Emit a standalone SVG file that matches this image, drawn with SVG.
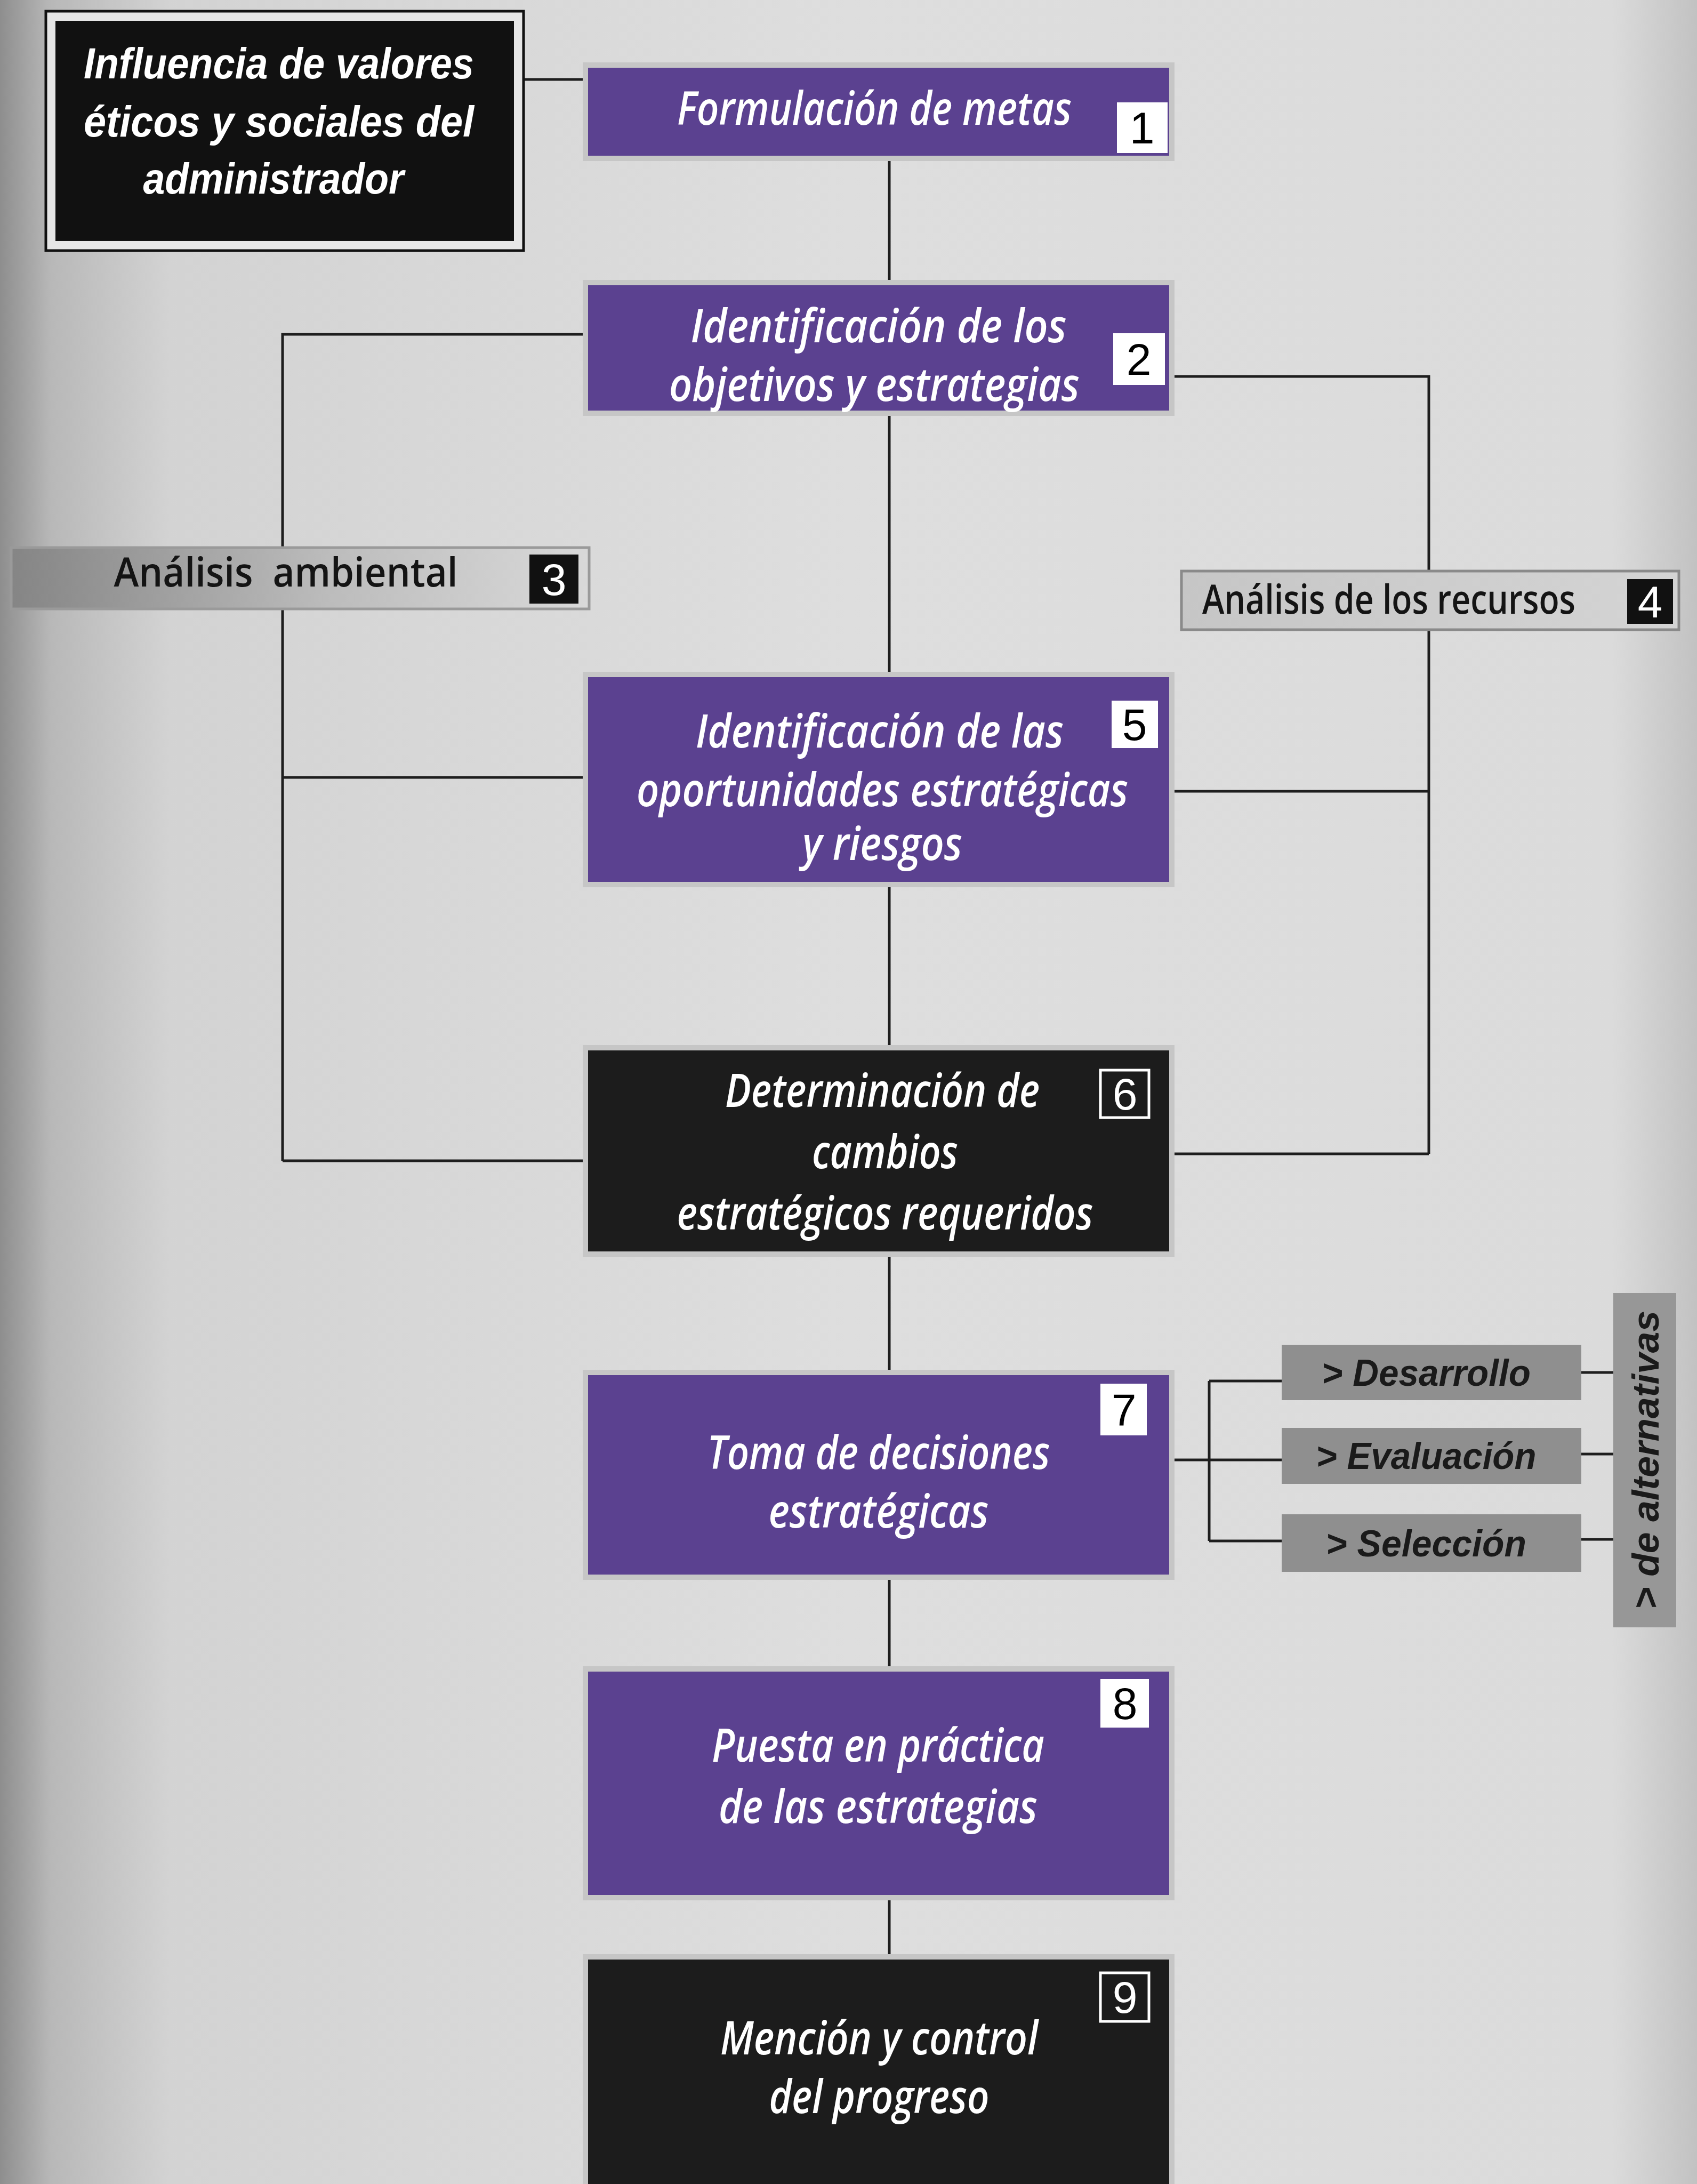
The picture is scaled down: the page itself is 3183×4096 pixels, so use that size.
<svg xmlns="http://www.w3.org/2000/svg" width="3183" height="4096" viewBox="0 0 3183 4096">
<defs>
<linearGradient id="page" x1="0" x2="1" y1="0" y2="0">
<stop offset="0" stop-color="#8e8e8e"/>
<stop offset="0.03" stop-color="#b8b8b8"/>
<stop offset="0.1" stop-color="#d3d3d3"/>
<stop offset="0.5" stop-color="#dedede"/>
<stop offset="0.95" stop-color="#dbdbdb"/>
<stop offset="1" stop-color="#c2c2c2"/>
</linearGradient>
<linearGradient id="g3" x1="0" x2="1" y1="0" y2="0">
<stop offset="0" stop-color="#858585"/>
<stop offset="0.55" stop-color="#bcbcbc"/>
<stop offset="1" stop-color="#d9d9d9"/>
</linearGradient>
<linearGradient id="g4" x1="0" x2="1" y1="0" y2="0">
<stop offset="0" stop-color="#c6c6c6"/>
<stop offset="1" stop-color="#d4d4d4"/>
</linearGradient>
</defs>
<style>
.conn line, .conn polyline {stroke:#1e1e1e; stroke-width:5; fill:none}
.purple {fill:#5b4190; stroke:#c6c6c6; stroke-width:10}
.dark {fill:#1c1c1c; stroke:#c6c6c6; stroke-width:10}
.nt {font-family:"Open Sans","Noto Sans",sans-serif; font-style:italic; font-weight:600; font-size:86px; fill:#ffffff; text-anchor:middle}
.num {font-family:"Liberation Sans",Arial,sans-serif; font-size:84px; text-anchor:middle}
.wbox {fill:#ffffff}
.bbox {fill:#111111}
.obox {fill:#1c1c1c; stroke:#ffffff; stroke-width:5}
.alt {fill:#8f8f8f}
.at {font-family:"Liberation Sans",Arial,sans-serif; font-weight:bold; font-style:italic; font-size:70px; fill:#1a1a1a; text-anchor:middle}
.gt {font-family:"Open Sans","Noto Sans",sans-serif; font-weight:600; font-size:76px; fill:#141414; text-anchor:middle; white-space:pre}
.it {font-family:"Liberation Sans",Arial,sans-serif; font-weight:bold; font-style:italic; font-size:82px; fill:#ffffff; text-anchor:middle}
</style>
<rect x="0" y="0" width="3183" height="4096" fill="url(#page)"/>

<g id="connectors" class="conn">
<line x1="982" y1="149" x2="1098" y2="149"/>
<line x1="1668" y1="297" x2="1668" y2="530"/>
<polyline points="1098,627 530,627 530,1027"/>
<polyline points="2198,706 2680,706 2680,1071"/>
<line x1="530" y1="1142" x2="530" y2="2177"/>
<line x1="530" y1="1458" x2="1098" y2="1458"/>
<line x1="530" y1="2177" x2="1098" y2="2177"/>
<line x1="2680" y1="1181" x2="2680" y2="2164"/>
<line x1="2198" y1="1484" x2="2680" y2="1484"/>
<line x1="2198" y1="2164" x2="2680" y2="2164"/>
<line x1="1668" y1="775" x2="1668" y2="1265"/>
<line x1="1668" y1="1659" x2="1668" y2="1965"/>
<line x1="1668" y1="2352" x2="1668" y2="2574"/>
<line x1="2198" y1="2738" x2="2268" y2="2738"/>
<line x1="2268" y1="2590" x2="2268" y2="2890"/>
<line x1="2268" y1="2590" x2="2404" y2="2590"/>
<line x1="2268" y1="2738" x2="2404" y2="2738"/>
<line x1="2268" y1="2890" x2="2404" y2="2890"/>
<line x1="2966" y1="2574" x2="3026" y2="2574"/>
<line x1="2966" y1="2727" x2="3026" y2="2727"/>
<line x1="2966" y1="2887" x2="3026" y2="2887"/>
<line x1="1668" y1="2958" x2="1668" y2="3130"/>
<line x1="1668" y1="3559" x2="1668" y2="3670"/>
</g>

<g id="node-influencia">
<rect x="86" y="21" width="896" height="449" fill="#e6e6e6" stroke="#111" stroke-width="5"/>
<rect x="104" y="39" width="860" height="413" fill="#111111"/>
<text class="it" x="523" y="147" textLength="732" lengthAdjust="spacingAndGlyphs">Influencia de valores</text>
<text class="it" x="523" y="256" textLength="732" lengthAdjust="spacingAndGlyphs">éticos y sociales del</text>
<text class="it" x="513" y="363" textLength="489" lengthAdjust="spacingAndGlyphs">administrador</text>
</g>

<g id="node-1">
<rect class="purple" x="1098" y="122" width="1100" height="175"/>
<text class="nt" x="1640" y="234" font-size="78" textLength="740" lengthAdjust="spacingAndGlyphs">Formulación de metas</text>
<rect class="wbox" x="2095" y="192" width="95" height="95"/>
<text class="num" x="2142" y="269">1</text>
</g>

<g id="node-2">
<rect class="purple" x="1098" y="530" width="1100" height="245"/>
<text class="nt" x="1648" y="642" font-size="80" textLength="705" lengthAdjust="spacingAndGlyphs">Identificación de los</text>
<text class="nt" x="1640" y="752" font-size="76" textLength="770" lengthAdjust="spacingAndGlyphs">objetivos y estrategias</text>
<rect class="wbox" x="2088" y="625" width="97" height="97"/>
<text class="num" x="2136" y="703">2</text>
</g>

<g id="node-3">
<rect x="21" y="1027" width="1084" height="115" fill="url(#g3)" stroke="#9a9a9a" stroke-width="5"/>
<text class="gt" x="536" y="1100" textLength="645" lengthAdjust="spacingAndGlyphs">Análisis  ambiental</text>
<rect class="bbox" x="993" y="1040" width="92" height="92"/>
<text class="num" x="1039" y="1116" fill="#ffffff">3</text>
</g>

<g id="node-4">
<rect x="2216" y="1071" width="933" height="110" fill="url(#g4)" stroke="#8a8a8a" stroke-width="5"/>
<text class="gt" x="2605" y="1151" font-size="66" textLength="700" lengthAdjust="spacingAndGlyphs">Análisis de los recursos</text>
<rect class="bbox" x="3052" y="1086" width="86" height="84"/>
<text class="num" x="3095" y="1158" fill="#ffffff">4</text>
</g>

<g id="node-5">
<rect class="purple" x="1098" y="1265" width="1100" height="394"/>
<text class="nt" x="1650" y="1402" textLength="690" lengthAdjust="spacingAndGlyphs">Identificación de las</text>
<text class="nt" x="1655" y="1512" textLength="922" lengthAdjust="spacingAndGlyphs">oportunidades estratégicas</text>
<text class="nt" x="1655" y="1613" textLength="300" lengthAdjust="spacingAndGlyphs">y riesgos</text>
<rect class="wbox" x="2085" y="1314" width="87" height="89"/>
<text class="num" x="2128" y="1388">5</text>
</g>

<g id="node-6">
<rect class="dark" x="1098" y="1965" width="1100" height="387"/>
<text class="nt" x="1655" y="2076" textLength="590" lengthAdjust="spacingAndGlyphs">Determinación de</text>
<text class="nt" x="1660" y="2191" textLength="274" lengthAdjust="spacingAndGlyphs">cambios</text>
<text class="nt" x="1660" y="2306" textLength="781" lengthAdjust="spacingAndGlyphs">estratégicos requeridos</text>
<rect class="obox" x="2064" y="2007" width="91" height="89"/>
<text class="num" x="2110" y="2081" fill="#ffffff">6</text>
</g>

<g id="node-7">
<rect class="purple" x="1098" y="2574" width="1100" height="384"/>
<text class="nt" x="1648" y="2755" textLength="643" lengthAdjust="spacingAndGlyphs">Toma de decisiones</text>
<text class="nt" x="1648" y="2865" textLength="413" lengthAdjust="spacingAndGlyphs">estratégicas</text>
<rect class="wbox" x="2064" y="2595" width="87" height="97"/>
<text class="num" x="2108" y="2673">7</text>
</g>

<g id="node-desarrollo">
<rect class="alt" x="2404" y="2522" width="562" height="104"/>
<text class="at" x="2675" y="2599" textLength="392" lengthAdjust="spacingAndGlyphs">&gt; Desarrollo</text>
</g>
<g id="node-evaluacion">
<rect class="alt" x="2404" y="2678" width="562" height="105"/>
<text class="at" x="2675" y="2755" textLength="413" lengthAdjust="spacingAndGlyphs">&gt; Evaluación</text>
</g>
<g id="node-seleccion">
<rect class="alt" x="2404" y="2840" width="562" height="108"/>
<text class="at" x="2675" y="2919" textLength="376" lengthAdjust="spacingAndGlyphs">&gt; Selección</text>
</g>
<g id="node-alternativas">
<rect x="3026" y="2425" width="118" height="627" fill="#979797"/>
<text class="at" x="3085" y="2764" font-size="76" transform="rotate(-90 3085 2738)" textLength="560" lengthAdjust="spacingAndGlyphs">&gt; de alternativas</text>
</g>

<g id="node-8">
<rect class="purple" x="1098" y="3130" width="1100" height="429"/>
<text class="nt" x="1647" y="3304" textLength="624" lengthAdjust="spacingAndGlyphs">Puesta en práctica</text>
<text class="nt" x="1647" y="3419" textLength="598" lengthAdjust="spacingAndGlyphs">de las estrategias</text>
<rect class="wbox" x="2064" y="3149" width="91" height="91"/>
<text class="num" x="2110" y="3224">8</text>
</g>

<g id="node-9">
<rect class="dark" x="1098" y="3670" width="1100" height="460"/>
<text class="nt" x="1649" y="3853" textLength="596" lengthAdjust="spacingAndGlyphs">Mención y control</text>
<text class="nt" x="1649" y="3963" textLength="413" lengthAdjust="spacingAndGlyphs">del progreso</text>
<rect class="obox" x="2064" y="3700" width="91" height="91"/>
<text class="num" x="2110" y="3775" fill="#ffffff">9</text>
</g>
</svg>
